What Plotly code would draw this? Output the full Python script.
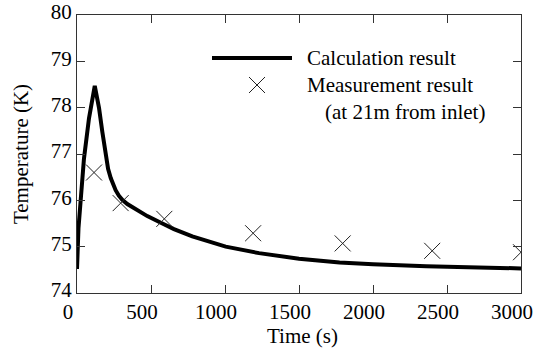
import plotly.graph_objects as go

# Calculation result (time s, temperature K)
calc_t = [0, 10, 47, 81, 120, 149, 171, 194, 210, 228, 245, 261, 283, 306, 340, 385, 475,
          570, 655, 779, 900, 1005, 1230, 1500, 1774, 2000, 2360, 2700, 3000]
calc_T = [74.52, 75.40, 76.90, 77.77, 78.47, 77.99, 77.48, 76.91, 76.68, 76.48, 76.33, 76.22,
          76.10, 76.01, 75.92, 75.83, 75.66, 75.51, 75.38, 75.22, 75.10, 75.00, 74.86, 74.74,
          74.66, 74.62, 74.58, 74.55, 74.53]

# Measurement result (at 21m from inlet)
meas_t = [115, 295, 590, 1190, 1795, 2400, 3000]
meas_T = [76.6, 75.94, 75.6, 75.29, 75.07, 74.91, 74.88]

x_ticks = [0, 500, 1000, 1500, 2000, 2500, 3000]
y_ticks = [74, 75, 76, 77, 78, 79, 80]

FONT = "Liberation Serif"
FS = 21

fig = go.Figure()
fig.add_trace(go.Scatter(x=calc_t, y=calc_T, mode="lines",
                         line=dict(color="black", width=4), showlegend=False))
fig.add_trace(go.Scatter(x=meas_t, y=meas_T, mode="markers",
                         marker=dict(symbol="x-thin-open", size=16, color="#222",
                                     line=dict(color="#222", width=1)),
                         showlegend=False))

axis_common = dict(showgrid=False, zeroline=False, showline=True, linecolor="#333",
                   linewidth=1, mirror="ticks", ticks="inside", ticklen=8,
                   tickcolor="#333", tickwidth=1, automargin=False,
                   tickfont=dict(family=FONT, size=FS, color="black"))

fig.update_xaxes(range=[0, 3000], tickvals=x_ticks, ticklabelshift=-9,
                 ticklabelstandoff=0,
                 **axis_common)
fig.update_yaxes(range=[74, 80], tickvals=y_ticks, ticklabelshift=-3,
                 title=dict(text="Temperature (K)", font=dict(family=FONT, size=FS, color="black"),
                            standoff=16),
                 **axis_common)

# paper-coordinate helpers
W, H = 444.0, 278.0
def px(x):
    return (x - 77) / W
def py(y):
    return (293 - y) / H

# x-axis title
fig.add_annotation(xref="paper", yref="paper", x=px(302), y=py(336), text="Time (s)",
                   showarrow=False, xanchor="center", yanchor="middle",
                   font=dict(family=FONT, size=FS, color="black"))

# manual legend
fig.add_shape(type="line", xref="paper", yref="paper", x0=px(212), x1=px(292),
              y0=py(58), y1=py(58), line=dict(color="black", width=4))
cx, cy, hs = 257, 85, 8
fig.add_shape(type="line", xref="paper", yref="paper", x0=px(cx - hs), x1=px(cx + hs),
              y0=py(cy - hs), y1=py(cy + hs), line=dict(color="#222", width=1))
fig.add_shape(type="line", xref="paper", yref="paper", x0=px(cx - hs), x1=px(cx + hs),
              y0=py(cy + hs), y1=py(cy - hs), line=dict(color="#222", width=1))
legend_texts = [("Calculation result", 305, 58), ("Measurement result", 305, 85),
                ("(at 21m from inlet)", 323, 112)]
for txt, lx, ly in legend_texts:
    fig.add_annotation(xref="paper", yref="paper", x=px(lx), y=py(ly), text=txt,
                       showarrow=False, xanchor="left", yanchor="middle",
                       font=dict(family=FONT, size=FS, color="black"))

fig.update_layout(width=543, height=350, margin=dict(l=77, r=22, t=15, b=57),
                  plot_bgcolor="white", paper_bgcolor="white",
                  font=dict(family=FONT, size=FS, color="black"))

fig.write_html("out.html")
